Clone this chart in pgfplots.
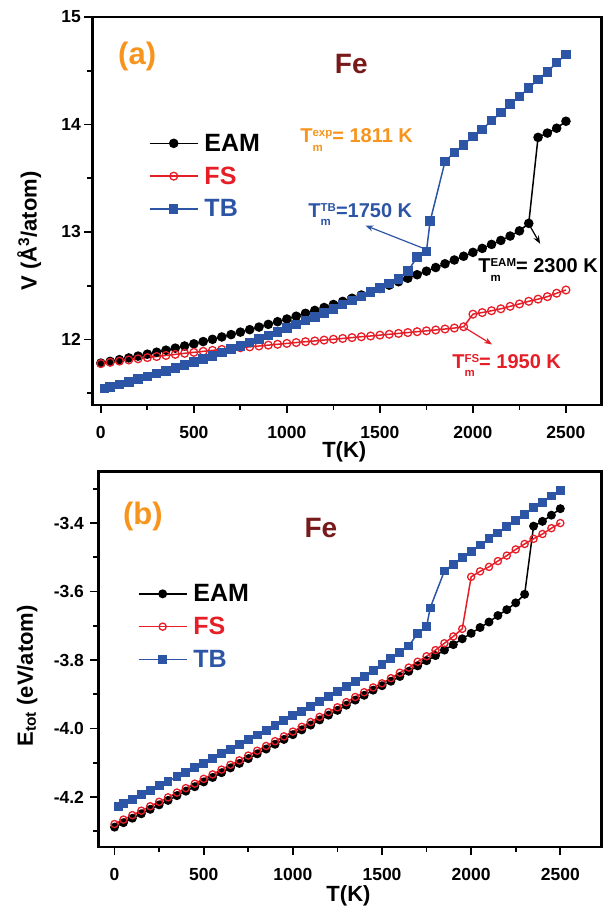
\documentclass[border=0pt]{standalone}
\usepackage{fontspec}
\setmainfont{Liberation Sans}
\usepackage{pgfplots}
\pgfplotsset{compat=1.18}
\usetikzlibrary{arrows.meta}

\definecolor{fsred}{RGB}{230,30,40}
\definecolor{tbblue}{RGB}{45,85,165}
\definecolor{labor}{RGB}{247,148,29}
\definecolor{ferd}{RGB}{120,26,26}

\newcommand{\fs}[1]{\fontsize{#1}{1.2\dimexpr#1pt\relax}\selectfont\bfseries}
% T with stacked subscript m and a superscript
\newcommand{\Tm}[1]{T\rlap{\raisebox{-8.5pt}{\fontsize{11.5}{12}\selectfont m}}%
  \raisebox{6pt}{\fontsize{11.5}{12}\selectfont #1}}

\pgfplotsset{
  fepanel/.style={
    scale only axis,
    axis line style={line width=2.6pt},
    tick style={line width=1.8pt, black},
    tick align=outside,
    xtick pos=bottom, ytick pos=left,
    major tick length=8pt, minor tick length=5pt,
    xtick={0,500,...,2500},
    minor xtick={250,750,...,2250},
    ticklabel style={font=\fs{17.5}},
    xticklabel style={yshift=-10pt},
    /pgf/number format/assume math mode=true,
    /pgf/number format/set thousands separator={},
    label style={font=\fs{22}},
    xlabel={T(K)},
    legend cell align=left,
    legend style={draw=none, fill=none, font=\fs{25},
      inner sep=0pt, row sep=14pt, column sep=6pt,
      nodes={inner sep=0pt}},
    legend image code/.code={\draw[mark repeat=2,mark phase=2]
      plot coordinates {(0pt,0pt) (24pt,0pt) (48pt,0pt)};},
  },
  eam/.style={black, line width=1.5pt, mark=*, mark size=#1},
  fs/.style={fsred, line width=1.5pt, mark=o, mark size=#1, mark options={line width=1.3pt}},
  tb/.style={tbblue, line width=1.5pt, mark=square*, mark size=#1},
}

\begin{document}
\begin{tikzpicture}[x=1pt,y=1pt]
\path[use as bounding box] (0,0) rectangle (603,908);

% ---------- (a) volume ----------
\begin{axis}[fepanel,
  at={(92.3pt,503pt)}, anchor=south west,
  width=509pt, height=388pt,
  xmin=-46, xmax=2690, ymin=11.39, ymax=15,
  ytick={12,13,14,15}, minor ytick={11.5,12.5,13.5,14.5},
  ylabel={V (Å\textsuperscript{3}/atom)},
  xlabel style={at={(axis description cs:0.495,-0.121)}, anchor=center},
  ylabel style={at={(axis description cs:-0.124,0.448)}, anchor=center, rotate=0},
  legend style={at={(axis description cs:0.111,0.699)}, anchor=north west},
]
\addplot[eam=4pt] coordinates {
(0,11.780)(50,11.796)(100,11.812)(150,11.828)(200,11.845)(250,11.863)(300,11.881)
(350,11.900)(400,11.919)(450,11.939)(500,11.959)(550,11.980)(600,12.001)(650,12.023)
(700,12.045)(750,12.068)(800,12.091)(850,12.115)(900,12.140)(950,12.165)(1000,12.190)
(1050,12.216)(1100,12.243)(1150,12.270)(1200,12.297)(1250,12.325)(1300,12.354)
(1350,12.383)(1400,12.413)(1450,12.443)(1500,12.474)(1550,12.505)(1600,12.537)
(1650,12.569)(1700,12.602)(1750,12.635)(1800,12.669)(1850,12.704)(1900,12.739)
(1950,12.774)(2000,12.810)(2050,12.847)(2100,12.884)(2150,12.921)(2200,12.962)
(2250,13.010)(2300,13.080)(2350,13.880)(2400,13.920)(2450,13.965)(2500,14.030)
};
\addlegendentry{EAM}
\addplot[fs=3.9pt] coordinates {
(0,11.775)(50,11.787)(100,11.798)(150,11.809)(200,11.820)(250,11.831)(300,11.841)
(350,11.851)(400,11.861)(450,11.871)(500,11.880)(550,11.889)(600,11.898)(650,11.907)
(700,11.915)(750,11.923)(800,11.931)(850,11.939)(900,11.947)(950,11.955)(1000,11.963)
(1050,11.971)(1100,11.979)(1150,11.986)(1200,11.994)(1250,12.002)(1300,12.009)
(1350,12.017)(1400,12.025)(1450,12.032)(1500,12.040)(1550,12.048)(1600,12.056)
(1650,12.064)(1700,12.072)(1750,12.080)(1800,12.088)(1850,12.097)(1900,12.106)
(1950,12.118)(2000,12.235)(2050,12.250)(2100,12.267)(2150,12.285)(2200,12.308)
(2250,12.330)(2300,12.355)(2350,12.375)(2400,12.398)(2450,12.430)(2500,12.460)
};
\addlegendentry{\textcolor{fsred}{FS}}
\addplot[tb=4pt] coordinates {
(20,11.544)(50,11.558)(100,11.581)(150,11.605)(200,11.630)(250,11.655)(300,11.681)
(350,11.707)(400,11.734)(450,11.762)(500,11.790)(550,11.819)(600,11.848)(650,11.878)
(700,11.909)(750,11.940)(800,11.972)(850,12.004)(900,12.037)(950,12.071)(1000,12.105)
(1050,12.140)(1100,12.175)(1150,12.211)(1200,12.248)(1250,12.285)(1300,12.323)
(1350,12.361)(1400,12.400)(1450,12.440)(1500,12.480)(1550,12.520)(1600,12.560)
(1650,12.635)(1700,12.766)(1750,12.820)(1770,13.100)(1850,13.656)(1900,13.740)
(1950,13.810)(2000,13.890)(2050,13.955)(2100,14.035)(2150,14.110)(2200,14.190)
(2250,14.260)(2300,14.340)(2350,14.420)(2400,14.490)(2450,14.575)(2500,14.650)
};
\addlegendentry{\textcolor{tbblue}{TB}}

\node[text=labor, font=\fs{31}] at (axis cs:195,14.63) {(a)};
\node[text=ferd, font=\fs{28}] at (axis cs:1346,14.56) {Fe};
\node[text=labor, font=\fs{20}, anchor=base west, inner sep=0pt] at (axis cs:1071,13.83)
  {\Tm{exp}= 1811 K};
\node[text=tbblue, font=\fs{20}, anchor=base west, inner sep=0pt] at (axis cs:1115,13.135)
  {\Tm{TB}=1750 K};
\node[text=black, font=\fs{20}, anchor=base west, inner sep=0pt] at (axis cs:2028,12.62)
  {\Tm{EAM}= 2300 K};
\node[text=fsred, font=\fs{20}, anchor=base west, inner sep=0pt] at (axis cs:1888,11.73)
  {\Tm{FS}= 1950 K};
\draw[tbblue, line width=1.2pt, -{Stealth[length=8pt,width=6pt]}]
  (axis cs:1745,12.84) -- (axis cs:1422,13.06);
\draw[black, line width=1.2pt, -{Stealth[length=8pt,width=6pt]}]
  (axis cs:2305,13.06) -- (axis cs:2361,12.89);
\draw[fsred, line width=1.2pt, -{Stealth[length=8pt,width=6pt]}]
  (axis cs:1955,12.11) -- (axis cs:2103,11.953);
\end{axis}

% ---------- (b) total energy ----------
\begin{axis}[fepanel,
  at={(98.5pt,61pt)}, anchor=south west,
  width=503pt, height=375.3pt,
  xmin=-90, xmax=2731, ymin=-4.346, ymax=-3.25,
  ytick={-4.2,-4.0,-3.8,-3.6,-3.4}, minor ytick={-4.3,-4.1,-3.9,-3.7,-3.5,-3.3},
  yticklabel style={xshift=-3pt, /pgf/number format/.cd, fixed, fixed zerofill, precision=1},
  ylabel={E\textsubscript{tot} (eV/atom)},
  xlabel style={at={(axis description cs:0.497,-0.131)}, anchor=center},
  ylabel style={at={(axis description cs:-0.142,0.456)}, anchor=center, rotate=0},
  legend style={at={(axis description cs:0.078,0.700)}, anchor=north west},
]
\addplot[eam=3.7pt] coordinates {
(0,-4.288)(50,-4.275)(100,-4.262)(150,-4.249)(200,-4.236)(250,-4.223)(300,-4.210)
(350,-4.196)(400,-4.183)(450,-4.170)(500,-4.156)(550,-4.143)(600,-4.129)(650,-4.115)
(700,-4.102)(750,-4.088)(800,-4.074)(850,-4.060)(900,-4.046)(950,-4.032)(1000,-4.018)
(1050,-4.004)(1100,-3.990)(1150,-3.975)(1200,-3.961)(1250,-3.947)(1300,-3.932)
(1350,-3.917)(1400,-3.903)(1450,-3.888)(1500,-3.875)(1550,-3.862)(1600,-3.848)
(1650,-3.833)(1700,-3.817)(1750,-3.802)(1800,-3.787)(1850,-3.771)(1900,-3.755)
(1950,-3.738)(2000,-3.722)(2050,-3.705)(2100,-3.689)(2150,-3.670)(2200,-3.653)
(2250,-3.633)(2300,-3.608)(2350,-3.409)(2400,-3.395)(2450,-3.377)(2500,-3.358)
};
\addlegendentry{EAM}
\addplot[fs=3.6pt] coordinates {
(0,-4.279)(50,-4.266)(100,-4.253)(150,-4.240)(200,-4.227)(250,-4.214)(300,-4.201)
(350,-4.187)(400,-4.174)(450,-4.161)(500,-4.147)(550,-4.134)(600,-4.120)(650,-4.106)
(700,-4.093)(750,-4.079)(800,-4.065)(850,-4.051)(900,-4.037)(950,-4.023)(1000,-4.009)
(1050,-3.995)(1100,-3.981)(1150,-3.966)(1200,-3.952)(1250,-3.938)(1300,-3.923)
(1350,-3.908)(1400,-3.894)(1450,-3.880)(1500,-3.868)(1550,-3.853)(1600,-3.837)
(1650,-3.822)(1700,-3.805)(1750,-3.789)(1800,-3.771)(1850,-3.751)(1900,-3.731)
(1950,-3.709)(2000,-3.557)(2050,-3.541)(2100,-3.528)(2150,-3.511)(2200,-3.495)
(2250,-3.477)(2300,-3.461)(2350,-3.446)(2400,-3.432)(2450,-3.415)(2500,-3.400)
};
\addlegendentry{\textcolor{fsred}{FS}}
\addplot[tb=3.7pt] coordinates {
(20,-4.227)(50,-4.219)(100,-4.206)(150,-4.193)(200,-4.180)(250,-4.167)(300,-4.154)
(350,-4.141)(400,-4.128)(450,-4.114)(500,-4.101)(550,-4.088)(600,-4.074)(650,-4.060)
(700,-4.047)(750,-4.033)(800,-4.019)(850,-4.005)(900,-3.991)(950,-3.977)(1000,-3.963)
(1050,-3.949)(1100,-3.935)(1150,-3.920)(1200,-3.906)(1250,-3.891)(1300,-3.877)
(1350,-3.862)(1400,-3.848)(1450,-3.830)(1500,-3.812)(1550,-3.795)(1600,-3.777)
(1650,-3.759)(1700,-3.722)(1750,-3.703)(1770,-3.648)(1850,-3.540)(1900,-3.520)
(1950,-3.501)(2000,-3.482)(2050,-3.464)(2100,-3.446)(2150,-3.429)(2200,-3.411)
(2250,-3.393)(2300,-3.374)(2350,-3.355)(2400,-3.339)(2450,-3.321)(2500,-3.304)
};
\addlegendentry{\textcolor{tbblue}{TB}}

\node[text=labor, font=\fs{31}] at (axis cs:159,-3.38) {(b)};
\node[text=ferd, font=\fs{28}] at (axis cs:1157,-3.415) {Fe};
\end{axis}
\end{tikzpicture}
\end{document}
